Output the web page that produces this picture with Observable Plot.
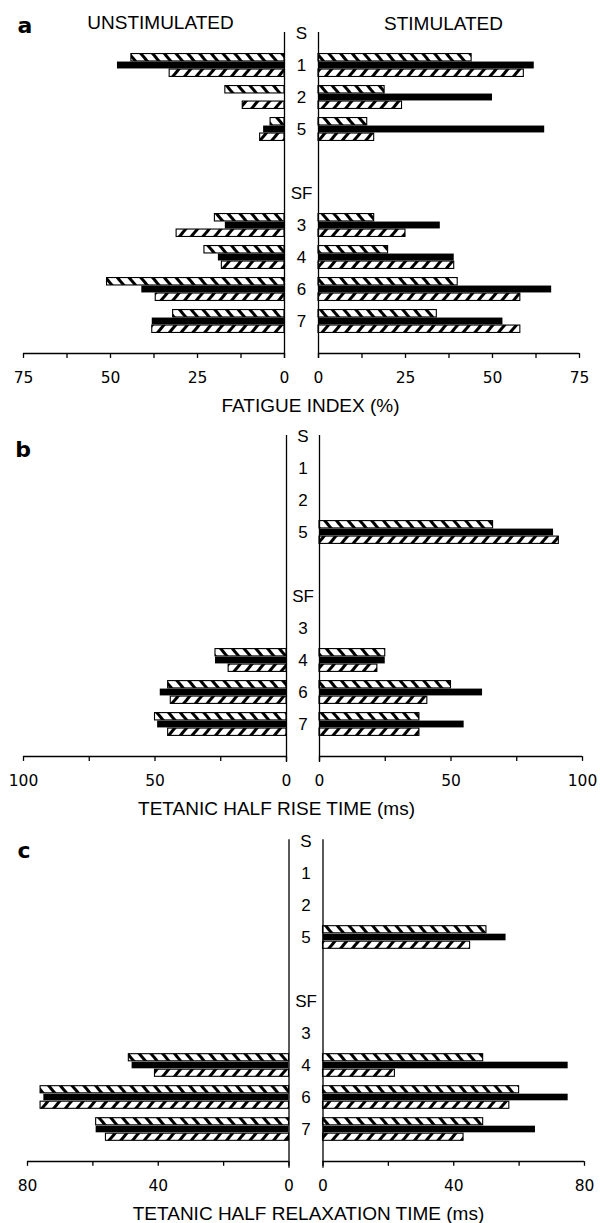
<!DOCTYPE html>
<html>
<head>
<meta charset="utf-8">
<script src="https://cdn.jsdelivr.net/npm/d3@7"></script>
<script src="https://cdn.jsdelivr.net/npm/@observablehq/plot@0.6"></script>
<style>
  html, body { margin: 0; padding: 0; background: #fff; }
  #chart { width: 600px; }
  #chart svg { display: block; }
</style>
</head>
<body>
<svg width="0" height="0" style="position:absolute">
  <defs>
    <pattern id="hatchBack" patternUnits="userSpaceOnUse" width="9" height="9" patternTransform="rotate(-40)">
      <rect width="9" height="9" fill="white"></rect>
      <rect width="3" height="9" fill="black"></rect>
    </pattern>
    <pattern id="hatchFwd" patternUnits="userSpaceOnUse" width="9" height="9" patternTransform="rotate(40)">
      <rect width="9" height="9" fill="white"></rect>
      <rect width="3" height="9" fill="black"></rect>
    </pattern>
  </defs>
</svg>
<div id="chart"></div>
<script>
// ---- categories ----
const subjects = ["1", "2", "5", "3", "4", "6", "7"];
const rowKeys = ["S", "1", "2", "5", "gap", "SF", "3", "4", "6", "7", "axis"];
const rowLabels = ["S", "1", "2", "5", "SF", "3", "4", "6", "7"];

// ---- (a) fatigue index (%) ----  order: subjects 1,2,5,3,4,6,7
const fatigueUnstimTop = [44, 17, 4, 20, 23, 51, 32];
const fatigueUnstimMid = [48, null, 6, 17, 19, 41, 38];
const fatigueUnstimBot = [33, 12, 7, 31, 18, 37, 38];
const fatigueStimTop = [44, 19, 14, 16, 20, 40, 34];
const fatigueStimMid = [62, 50, 65, 35, 39, 67, 53];
const fatigueStimBot = [59, 24, 16, 25, 39, 58, 58];
const fatigueTicks = [0, 12.5, 25, 37.5, 50, 62.5, 75];
const fatigueLabels = [0, 25, 50, 75];

// ---- (b) tetanic half rise time (ms) ----
const riseUnstimTop = [null, null, null, null, 27, 45, 50];
const riseUnstimMid = [null, null, null, null, 27, 48, 49];
const riseUnstimBot = [null, null, null, null, 22, 44, 45];
const riseStimTop = [null, null, 66, null, 25, 50, 38];
const riseStimMid = [null, null, 89, null, 25, 62, 55];
const riseStimBot = [null, null, 91, null, 22, 41, 38];
const riseTicks = [0, 25, 50, 75, 100];
const riseLabels = [0, 50, 100];

// ---- (c) tetanic half relaxation time (ms) ----
const relaxUnstimTop = [null, null, null, null, 49, 76, 59];
const relaxUnstimMid = [null, null, null, null, 48, 75, 59];
const relaxUnstimBot = [null, null, null, null, 41, 76, 56];
const relaxStimTop = [null, null, 50, null, 49, 60, 49];
const relaxStimMid = [null, null, 56, null, 75, 75, 65];
const relaxStimBot = [null, null, 45, null, 22, 57, 43];
const relaxTicks = [0, 20, 40, 60, 80];
const relaxLabels = [0, 40, 80];

const SANS = "'Liberation Sans', Arial, Helvetica, sans-serif";

const panels = [
  {letter: "a", title: "FATIGUE INDEX (%)", max: 75, ticks: fatigueTicks, labels: fatigueLabels,
   unstim: [fatigueUnstimTop, fatigueUnstimMid, fatigueUnstimBot],
   stim: [fatigueStimTop, fatigueStimMid, fatigueStimBot],
   height: 416, mt: 16, mb: 47, ml: 23, mr: 21, gap: 34,
   letterPos: [24.5, 25.5], titleX: 310, headers: true},
  {letter: "b", title: "TETANIC HALF RISE TIME (ms)", max: 100, ticks: riseTicks, labels: riseLabels,
   unstim: [riseUnstimTop, riseUnstimMid, riseUnstimBot],
   stim: [riseStimTop, riseStimMid, riseStimBot],
   height: 404, mt: 3, mb: 47, ml: 23, mr: 18, gap: 33,
   letterPos: [22.5, 33.5], titleX: 276, headers: false},
  {letter: "c", title: "TETANIC HALF RELAXATION TIME (ms)", max: 80, ticks: relaxTicks, labels: relaxLabels,
   unstim: [relaxUnstimTop, relaxUnstimMid, relaxUnstimBot],
   stim: [relaxStimTop, relaxStimMid, relaxStimBot],
   height: 403, mt: 3, mb: 44, ml: 27, mr: 16, gap: 34,
   letterPos: [23.5, 30], titleX: 308, headers: false}
];

function makePanel(p) {
  const W = 600;
  const s = (W - p.ml - p.mr - p.gap) / (2 * p.max);
  const G = p.gap / 2 / s;
  const step = (p.height - p.mt - p.mb) / rowKeys.length;
  const c = step / 2;
  const kinds = ["top", "mid", "bot"];
  const series = [];
  [["L", p.unstim], ["R", p.stim]].forEach(([side, arrs]) => {
    arrs.forEach((arr, k) => arr.forEach((v, i) => {
      if (v != null) series.push({side, kind: kinds[k], subject: subjects[i], value: v});
    }));
  });
  const end = d => d.side === "L" ? -(G + d.value) : G + d.value;
  const zero = d => d.side === "L" ? -G : G;
  const insets = {top: [c - 11.5, c + 4], mid: [c - 3.5, c - 3.5], bot: [c + 4, c - 11.5]};
  const fills = {top: "url(#hatchBack)", mid: "black", bot: "url(#hatchFwd)"};

  const bars = kinds.map(kind => Plot.barX(series.filter(d => d.kind === kind), {
    x1: zero, x2: end, y: "subject",
    fill: fills[kind], stroke: "black", strokeWidth: kind === "mid" ? 0 : 1.1,
    insetTop: insets[kind][0], insetBottom: insets[kind][1]
  }));

  const tickPos = p.ticks.flatMap(t => [-(G + t), G + t]);
  const labelData = p.labels.flatMap(t => [{x: -(G + t), t}, {x: G + t, t}]);
  const axisSegs = [{x1: -(G + p.max), x2: -G}, {x1: G, x2: G + p.max}];

  const note = (text, px, py, opts) => Plot.text([text], {
    frameAnchor: "top-left", dx: px - p.ml, dy: py - p.mt,
    textAnchor: "middle", lineAnchor: "middle", fill: "black", ...opts
  });

  const marks = [
    ...bars,
    Plot.ruleX([-G, G], {stroke: "black", strokeWidth: 1.3, insetTop: c, insetBottom: c - 5}),
    Plot.ruleY(axisSegs, {y: () => "axis", x1: "x1", x2: "x2", stroke: "black", strokeWidth: 1.3}),
    Plot.tickX(tickPos, {x: d => d, y: () => "axis", stroke: "black", strokeWidth: 1.3,
      insetTop: c, insetBottom: c - 5}),
    Plot.text(labelData, {x: "x", y: () => "axis", text: d => String(d.t), dy: 25,
      fontSize: 15.5, fontFamily: "'DejaVu Sans', sans-serif", fill: "black"}),
    Plot.text(rowLabels, {x: () => 0, y: d => d, fontSize: 17, fontFamily: SANS, fill: "black"}),
    Plot.text([p.title], {x: () => (p.titleX - p.ml) / s - (p.max + G), y: () => "axis", dy: 52,
      fontSize: 19, fontFamily: SANS, fill: "black"}),
    note(p.letter, p.letterPos[0], p.letterPos[1], {fontSize: 22, fontWeight: "bold", fontFamily: "'DejaVu Sans', sans-serif"})
  ];
  if (p.headers) {
    marks.push(note("UNSTIMULATED", 160, 22, {fontSize: 19, fontFamily: SANS}));
    marks.push(note("STIMULATED", 443, 23, {fontSize: 19, fontFamily: SANS}));
  }

  return Plot.plot({
    width: W, height: p.height,
    marginTop: p.mt, marginBottom: p.mb, marginLeft: p.ml, marginRight: p.mr,
    style: {background: "transparent", overflow: "visible", fontFamily: SANS, color: "black"},
    x: {type: "linear", domain: [-(p.max + G), p.max + G], axis: null},
    y: {type: "band", domain: rowKeys, padding: 0, axis: null},
    marks
  });
}

const root = document.getElementById("chart");
panels.forEach(p => root.appendChild(makePanel(p)));
</script>
</body>
</html>
